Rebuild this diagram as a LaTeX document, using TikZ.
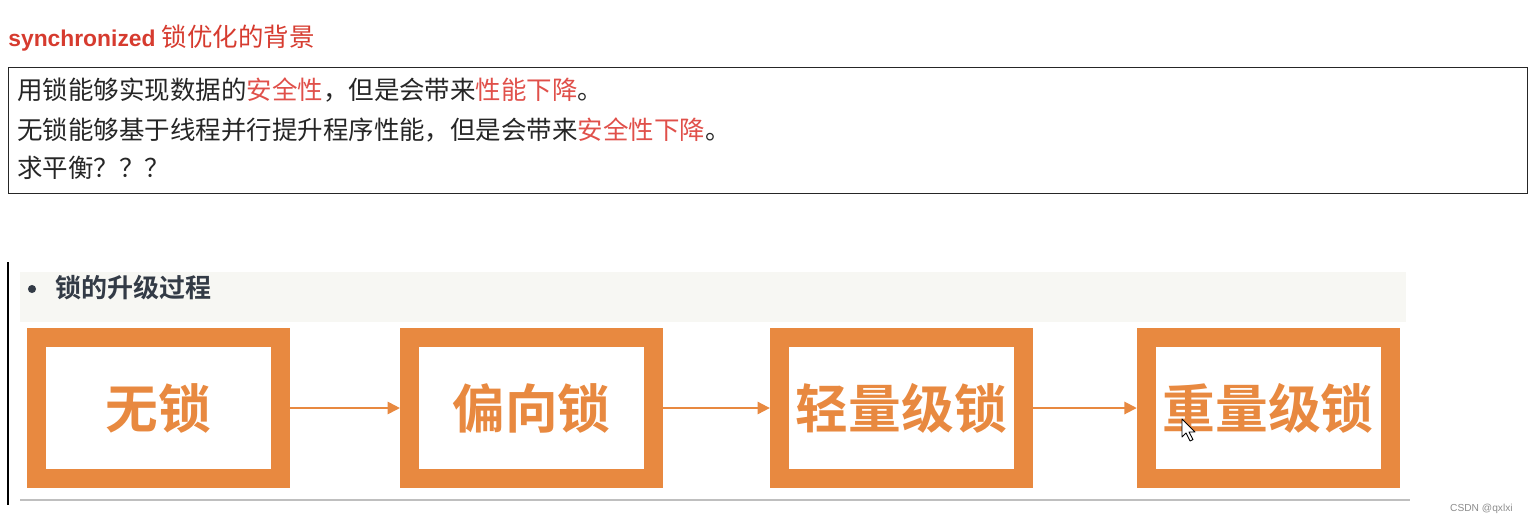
\documentclass[tikz,border=0pt]{standalone}
\usepackage{fontspec}
\setmainfont{Liberation Sans}
\newfontfamily\cjk{Noto Sans CJK SC}[BoldFont={Noto Sans CJK SC Bold}]
\usetikzlibrary{positioning}
\usetikzlibrary{arrows.meta}

\definecolor{lockorange}{RGB}{232,137,64}
\definecolor{titlered}{RGB}{214,59,47}
\definecolor{warnred}{RGB}{224,80,74}
\definecolor{bandgray}{RGB}{247,247,243}
\definecolor{headslate}{RGB}{51,59,70}

\begin{document}
\begin{tikzpicture} [x=.02cm, y=-.02cm,
  lockbox/.style={draw=lockorange, line width=10.8pt, minimum width=4.88cm, minimum height=2.82cm,
    inner sep=0, text=lockorange, font=\cjk\bfseries\fontsize{30}{32}\selectfont},
  flow/.style={lockorange, line width=1.1pt, -{Triangle[length=7pt, width=7pt]}},
  bodyline/.style={anchor=west, inner sep=0, text=black!85, font=\cjk\fontsize{14.5}{17}\selectfont}]
\useasboundingbox (0,0) rectangle (1528,525);

% title and framed text
\node[anchor=west, inner sep=0, text=titlered] (title) at (8,38)
  {\fontsize{13}{15}\selectfont\bfseries synchronized {\cjk\mdseries\fontsize{14.5}{16}\selectfont 锁优化的背景}};
\node[draw=black!85, line width=.8pt, anchor=north west, minimum width=30.38cm, minimum height=2.52cm, inner sep=0] (frame) at (8,67) {};
\node[bodyline] (line1) at (17,90) {用锁能够实现数据的\textcolor{warnred}{安全性}，但是会带来\textcolor{warnred}{性能下降}。};
\node[bodyline] (line2) at (17,130) {无锁能够基于线程并行提升程序性能，但是会带来\textcolor{warnred}{安全性下降}。};
\node[bodyline] (line3) at (17,168) {求平衡？？？};

% upgrade chain
\fill[bandgray] (20,272) rectangle (1406,322);
\draw[black, line width=.7pt] (8,262)--(8,505);
\draw[black!25, line width=.7pt] (20,500)--(1410,500);
\fill[headslate] (32,289) circle (2.3pt);
\node[anchor=west, inner sep=0, text=headslate, font=\cjk\bfseries\fontsize{14.8}{17}\selectfont] (heading) at (55,288) {锁的升级过程};

\node[lockbox] (nolock) at (158.5,408) {无锁};
\node[lockbox, right=2.2cm of nolock] (biased) {偏向锁};
\node[lockbox, right=2.14cm of biased] (light) {轻量级锁};
\node[lockbox, right=2.08cm of light] (heavy) {重量级锁};

\foreach \a/\b in {nolock/biased, biased/light, light/heavy} \draw[flow] (\a) -- (\b);

% mouse pointer
\draw[black, fill=white, line width=.5pt, line join=round] (1182,419) --++(0,18) --++(4,-4) --++(4,8) --++(3,-1.5) --++(-4,-7.5) --++(6,0) --cycle;

\node[anchor=east, inner sep=0, text=black!45, font=\fontsize{5.8}{7}\selectfont] (mark) at (1513,509) {CSDN @qxlxi};
\end{tikzpicture}
\end{document}
